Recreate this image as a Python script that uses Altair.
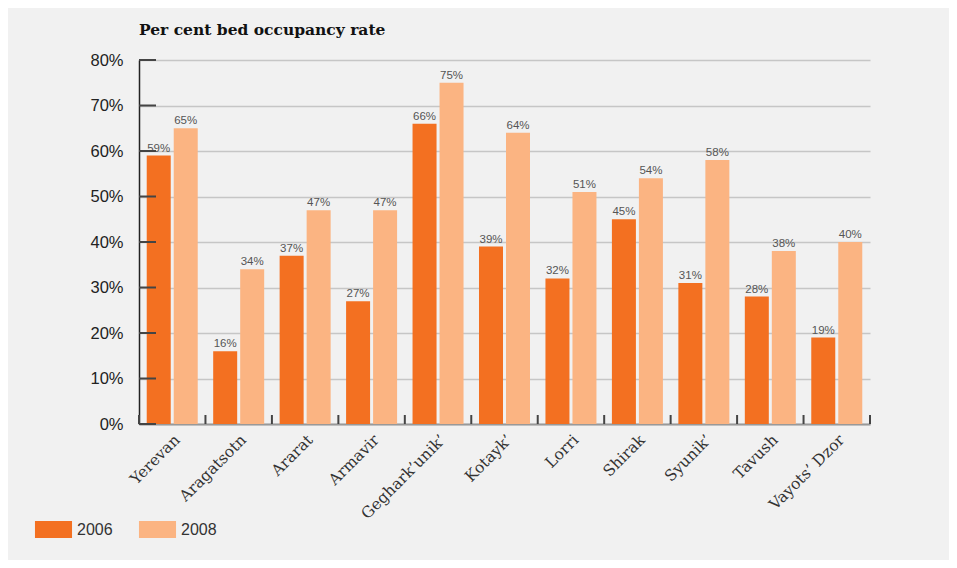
import altair as alt
import pandas as pd

regions = ["Yerevan", "Aragatsotn", "Ararat", "Armavir", "Geghark\u2019unik\u2019", "Kotayk\u2019",
           "Lorri", "Shirak", "Syunik\u2019", "Tavush", "Vayots\u2019 Dzor"]
values_2006 = [59, 16, 37, 27, 66, 39, 32, 45, 31, 28, 19]
values_2008 = [65, 34, 47, 47, 75, 64, 51, 54, 58, 38, 40]
years = ["2006", "2008"]
y_ticks = [0, 10, 20, 30, 40, 50, 60, 70, 80]
title_text = "Per cent bed occupancy rate"

rows = []
for r, a, b in zip(regions, values_2006, values_2008):
    rows.append({"region": r, "year": "2006", "value": a})
    rows.append({"region": r, "year": "2008", "value": b})
df = pd.DataFrame(rows)
df["label"] = df["value"].astype(str) + "%"
ticks_df = pd.DataFrame({"t": y_ticks})
reg_df = pd.DataFrame({"region": regions})

W, H = 731, 364
SANS = "Liberation Sans"
SERIF = "DejaVu Serif"

x_scale = alt.Scale(domain=regions, paddingInner=0, paddingOuter=0)
y_scale = alt.Scale(domain=[0, 80], nice=False)
off_scale = alt.Scale(domain=years, paddingInner=0.111, paddingOuter=0.286)
color_scale = alt.Scale(domain=years, range=["#f37021", "#fbb482"])

x_enc = alt.X("region:N", scale=x_scale, sort=regions, title=None,
              axis=alt.Axis(labelAngle=-45, labelFont=SERIF, labelFontSize=15.5,
                            labelColor="#333333", labelPadding=8, ticks=False,
                            domainColor="#999999", domainWidth=2, grid=False))
y_enc = alt.Y("value:Q", scale=y_scale, title=None,
              axis=alt.Axis(values=y_ticks, format=".0f", labelExpr="datum.value + '%'",
                            labelFont=SANS, labelFontSize=16.5, labelColor="#222222",
                            labelPadding=16, ticks=False, domainColor="#222222",
                            domainWidth=1.5, grid=True, gridColor="#c6c6c6",
                            gridWidth=1.3))

legend_path = "M-2.18,-1H2.18V1H-2.18Z"

bars = alt.Chart(df).mark_bar(size=24).encode(
    x=x_enc,
    xOffset=alt.XOffset("year:N", scale=off_scale),
    y=y_enc,
    color=alt.Color("year:N", scale=color_scale, title=None,
                    legend=alt.Legend(orient="none", legendX=-94, legendY=461,
                                      direction="horizontal", symbolType=legend_path,
                                      symbolSize=289, symbolStrokeWidth=0,
                                      labelFont=SANS, labelFontSize=16,
                                      labelColor="#333333", labelOffset=15,
                                      columnPadding=25, padding=0)),
)

labels = alt.Chart(df).mark_text(baseline="alphabetic", dy=-4, font=SANS,
                                 fontSize=11.5, color="#555555").encode(
    x=alt.X("region:N", scale=x_scale, sort=regions),
    xOffset=alt.XOffset("year:N", scale=off_scale),
    y=alt.Y("value:Q", scale=y_scale),
    text="label:N",
)

y_tick_rules = alt.Chart(ticks_df).mark_rule(color="#444444", strokeWidth=2).encode(
    y=alt.Y("t:Q", scale=y_scale),
    x=alt.value(0), x2=alt.value(17),
)

x_tick_rules = alt.Chart(reg_df).mark_rule(color="#444444", strokeWidth=2).encode(
    x=alt.X("region:N", scale=x_scale, sort=regions, bandPosition=0),
    y=alt.value(H - 9), y2=alt.value(H),
)
x_end_rule = alt.Chart(reg_df.head(1)).mark_rule(color="#444444", strokeWidth=2).encode(
    x=alt.value(W), y=alt.value(H - 9), y2=alt.value(H),
)

chart = alt.layer(bars, labels, y_tick_rules, x_tick_rules, x_end_rule).properties(
    width=W, height=H,
    title=alt.TitleParams(title_text, anchor="start", frame="group", orient="top",
                          font=SERIF, fontSize=15.5, fontWeight="bold", color="#111111",
                          offset=14),
    autosize=alt.AutoSizeParams(type="none"),
    padding={"left": 131, "top": 52, "right": 79, "bottom": 136},
).configure(background="#f1f1f1").configure_view(stroke=None)

chart.save("out.html", embed_options={"renderer": "svg", "actions": False})
